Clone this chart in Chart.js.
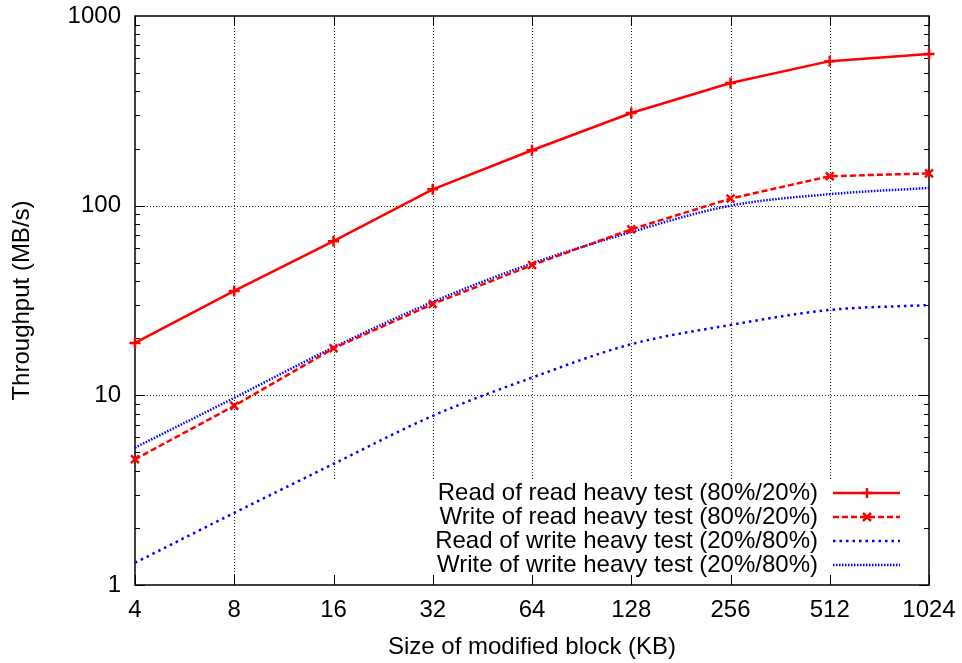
<!DOCTYPE html>
<html>
<head>
<meta charset="utf-8">
<script src="https://cdn.jsdelivr.net/npm/chart.js@4"></script>
<style>
  html, body { margin: 0; padding: 0; background: #fff; }
  #wrap { width: 962px; height: 663px; }
</style>
</head>
<body>
<div id="wrap"><canvas id="chart" width="962" height="663"></canvas></div>
<script>
// Dados (MB/s)
const sizes = ["4", "8", "16", "32", "64", "128", "256", "512", "1024"];
const readOfRead = [18.9, 35.5, 65, 122, 196, 308, 443, 578, 630];
const writeOfRead = [4.6, 8.8, 17.7, 30.3, 48.6, 75, 109, 143, 148];
const readOfWrite = [1.31, 2.4, 4.35, 7.8, 12.4, 18.6, 23.5, 28.2, 29.9];
const writeOfWrite = [5.3, 9.7, 17.9, 31.1, 49.6, 72.6, 100, 115, 124];
const yDecades = [1, 10, 100, 1000];
const legendLabels = [
  "Read of read heavy test (80%/20%)",
  "Write of read heavy test (80%/20%)",
  "Read of write heavy test (20%/80%)",
  "Write of write heavy test (20%/80%)"
];

const FONT = "'Liberation Sans', Arial, sans-serif";

// grade pontilhada, moldura com marcas internas e legenda no estilo gnuplot
const gnuplotFrame = {
  id: "gnuplotFrame",
  beforeDatasetsDraw(chart) {
    const { ctx, chartArea: a, scales: { x, y } } = chart;
    ctx.save();
    ctx.strokeStyle = "rgba(0,0,0,0.85)";
    ctx.lineWidth = 1;
    ctx.setLineDash([1, 2]);
    sizes.forEach((s, i) => {
      if (i === 0 || i === sizes.length - 1) return;
      const px = Math.round(x.getPixelForValue(i)) + 0.5;
      ctx.beginPath(); ctx.moveTo(px, a.top); ctx.lineTo(px, a.bottom); ctx.stroke();
    });
    yDecades.forEach(v => {
      if (v === 1 || v === 1000) return;
      const py = Math.round(y.getPixelForValue(v)) + 0.5;
      ctx.beginPath(); ctx.moveTo(a.left, py); ctx.lineTo(a.right, py); ctx.stroke();
    });
    ctx.setLineDash([]);

    // area da legenda limpa
    ctx.fillStyle = "#fff";
    ctx.fillRect(320, 481, a.right - 320, a.bottom - 481);

    // moldura
    ctx.strokeStyle = "#000";
    ctx.lineWidth = 1.5;
    ctx.strokeRect(a.left, a.top, a.right - a.left, a.bottom - a.top);

    // marcas
    ctx.lineWidth = 1;
    sizes.forEach((s, i) => {
      const px = Math.round(x.getPixelForValue(i)) + 0.5;
      ctx.beginPath();
      ctx.moveTo(px, a.bottom); ctx.lineTo(px, a.bottom - 10);
      ctx.moveTo(px, a.top); ctx.lineTo(px, a.top + 10);
      ctx.stroke();
    });
    for (let d = 1; d <= 100; d *= 10) {
      for (let m = 1; m <= 9; m++) {
        const py = Math.round(y.getPixelForValue(d * m)) + 0.5;
        const len = m === 1 ? 10 : 5;
        ctx.beginPath();
        ctx.moveTo(a.left, py); ctx.lineTo(a.left + len, py);
        ctx.moveTo(a.right, py); ctx.lineTo(a.right - len, py);
        ctx.stroke();
      }
    }
    ctx.restore();
  },
  afterDatasetsDraw(chart) {
    const { ctx } = chart;
    ctx.save();
    ctx.font = "24px " + FONT;
    ctx.textAlign = "right";
    ctx.textBaseline = "middle";
    ctx.fillStyle = "#000";
    legendLabels.forEach((label, i) => {
      const ds = chart.data.datasets[i];
      const yy = 493 + i * 24;
      ctx.fillText(label, 818, yy);
      ctx.strokeStyle = ds.borderColor;
      ctx.lineWidth = ds.borderWidth;
      ctx.setLineDash(ds.borderDash || []);
      ctx.beginPath(); ctx.moveTo(833, yy); ctx.lineTo(900, yy); ctx.stroke();
      ctx.setLineDash([]);
      if (ds.pointRadius > 0) {
        ctx.lineWidth = 2.5;
        ctx.beginPath();
        if (ds.pointStyle === "cross") {
          ctx.moveTo(867 - 5, yy); ctx.lineTo(867 + 5, yy);
          ctx.moveTo(867, yy - 5); ctx.lineTo(867, yy + 5);
        } else {
          ctx.moveTo(863, yy - 4); ctx.lineTo(871, yy + 4);
          ctx.moveTo(863, yy + 4); ctx.lineTo(871, yy - 4);
        }
        ctx.stroke();
      }
    });
    ctx.restore();
  }
};

new Chart(document.getElementById("chart"), {
  type: "line",
  data: {
    labels: sizes,
    datasets: [
      {
        label: legendLabels[0], data: readOfRead,
        borderColor: "#ff0000", borderWidth: 2.5,
        pointStyle: "cross", pointRadius: 5.5, pointBorderWidth: 2.5, pointBorderColor: "#ff0000",
        tension: 0, clip: false
      },
      {
        label: legendLabels[1], data: writeOfRead,
        borderColor: "#ff0000", borderWidth: 2.5, borderDash: [6, 3],
        pointStyle: "crossRot", pointRadius: 5.5, pointBorderWidth: 2.5, pointBorderColor: "#ff0000",
        tension: 0, clip: false
      },
      {
        label: legendLabels[2], data: readOfWrite,
        borderColor: "#0000ff", borderWidth: 2.5, borderDash: [2.5, 4],
        pointRadius: 0, cubicInterpolationMode: "monotone", clip: false
      },
      {
        label: legendLabels[3], data: writeOfWrite,
        borderColor: "#0000ff", borderWidth: 2.5, borderDash: [1.5, 1.5],
        pointRadius: 0, cubicInterpolationMode: "monotone", clip: false
      }
    ]
  },
  options: {
    responsive: false,
    animation: false,
    events: [],
    layout: { padding: { top: 16, right: 33, bottom: 0, left: 0 } },
    plugins: { legend: { display: false }, tooltip: { enabled: false } },
    scales: {
      x: {
        type: "category",
        offset: false,
        grid: { display: false, drawTicks: false },
        border: { display: false },
        ticks: { color: "#000", font: { family: FONT, size: 24 }, padding: 11, maxRotation: 0, autoSkip: false },
        title: { display: true, text: "Size of modified block (KB)", color: "#000",
                 font: { family: FONT, size: 24 }, padding: { top: 0, bottom: 1 } },
        afterFit(scale) {
          scale.height = 663 - 585;
          scale.paddingLeft = 0; scale.paddingRight = 0;
        }
      },
      y: {
        type: "logarithmic",
        min: 1, max: 1000,
        grid: { display: false, drawTicks: false },
        border: { display: false },
        ticks: {
          color: "#000", font: { family: FONT, size: 24 }, padding: 14, autoSkip: false,
          callback: v => yDecades.includes(v) ? String(v) : ""
        },
        title: { display: true, text: "Throughput (MB/s)", color: "#000",
                 font: { family: FONT, size: 24 }, padding: { top: 8, bottom: 0 } },
        afterFit(scale) {
          scale.width = 135;
          scale.paddingTop = 0; scale.paddingBottom = 0;
        }
      }
    }
  },
  plugins: [gnuplotFrame]
});
</script>
</body>
</html>
